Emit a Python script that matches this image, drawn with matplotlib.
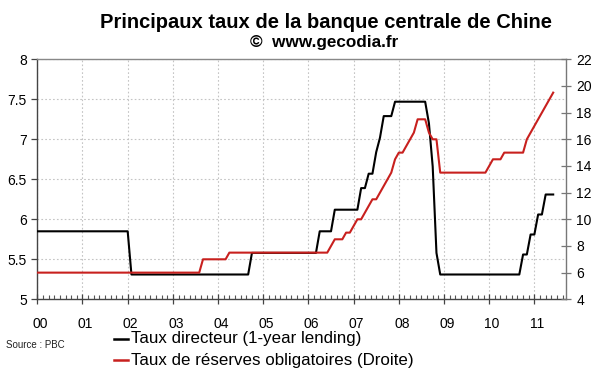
import matplotlib
matplotlib.use("Agg")
import matplotlib.pyplot as plt
import matplotlib.transforms as mtransforms
import numpy as np

plt.rcParams['font.family'] = ['Liberation Sans', 'DejaVu Sans']

# Monthly data, Jan 2000 .. Jun 2011 (end-of-month values)
taux_directeur = (
    [5.85] * 12 +                                   # 2000
    [5.85] * 12 +                                   # 2001
    [5.85] + [5.31] * 11 +                          # 2002
    [5.31] * 12 +                                   # 2003
    [5.31] * 9 + [5.58] * 3 +                       # 2004
    [5.58] * 12 +                                   # 2005
    [5.58] * 3 + [5.85] * 4 + [6.12] * 5 +          # 2006
    [6.12, 6.12, 6.39, 6.39, 6.57, 6.57, 6.84, 7.02, 7.29, 7.29, 7.29, 7.47] +  # 2007
    [7.47] * 8 + [7.20, 6.66, 5.58, 5.31] +         # 2008
    [5.31] * 12 +                                   # 2009
    [5.31] * 9 + [5.56, 5.56, 5.81] +               # 2010
    [5.81, 6.06, 6.06, 6.31, 6.31, 6.31]            # 2011
)
taux_reserves = (
    [6.0] * 12 + [6.0] * 12 + [6.0] * 12 +          # 2000-2002
    [6.0] * 8 + [7.0] * 4 +                         # 2003
    [7.0] * 3 + [7.5] * 9 +                         # 2004
    [7.5] * 12 +                                    # 2005
    [7.5] * 6 + [8.0, 8.5, 8.5, 8.5, 9.0, 9.0] +    # 2006
    [9.5, 10.0, 10.0, 10.5, 11.0, 11.5, 11.5, 12.0, 12.5, 13.0, 13.5, 14.5] +  # 2007
    [15.0, 15.0, 15.5, 16.0, 16.5, 17.5, 17.5, 17.5, 16.5, 16.0, 16.0, 13.5] +  # 2008
    [13.5] * 12 +                                   # 2009
    [14.0, 14.5, 14.5, 14.5, 15.0, 15.0, 15.0, 15.0, 15.0, 15.0, 16.0, 16.5] +  # 2010
    [17.0, 17.5, 18.0, 18.5, 19.0, 19.5]            # 2011
)
year_labels = ['00', '01', '02', '03', '04', '05', '06', '07', '08', '09', '10', '11']
left_ticks = [5, 5.5, 6, 6.5, 7, 7.5, 8]
right_ticks = [4, 6, 8, 10, 12, 14, 16, 18, 20, 22]

months = np.arange(len(taux_directeur)) / 12.0  # years since Jan 2000

fig = plt.figure(figsize=(6.0, 3.72), dpi=100)
ax = fig.add_axes([37.3 / 600, 1 - 299.3 / 372, (566 - 37.3) / 600, (299.3 - 59.3) / 372])
ax2 = ax.twinx()

red = '#C8201E'
ax.plot(months, taux_directeur, color='black', lw=1.5, zorder=5)
ax2.plot(months, taux_reserves, color=red, lw=1.5, zorder=4)

ax.set_xlim(0, 11.70)
ax.set_ylim(5, 8)
ax2.set_ylim(4, 22)
ax.set_yticks(left_ticks)
ax.set_yticklabels(['5', '5.5', '6', '6.5', '7', '7.5', '8'])
ax2.set_yticks(right_ticks)

ax.set_xticks(np.arange(len(year_labels)))
ax.set_xticklabels(year_labels)
ax.set_xticks(np.arange(0, 11.71, 1 / 8), minor=True)

ax.grid(True, which='major', color='#C4C4C4', linestyle=(0, (1.5, 2)), lw=0.8)
ax.set_axisbelow(True)

ax.spines['top'].set_color('#888888')
ax2.spines['top'].set_visible(False)
ax.spines['right'].set_visible(False)
ax2.spines['left'].set_visible(False)
ax2.spines['bottom'].set_visible(False)
ax.spines['left'].set_color('#444444')
ax.spines['bottom'].set_color('#444444')
ax2.spines['right'].set_color('#777777')
for sp in ax.spines.values():
    sp.set_linewidth(1.0)
ax2.spines['right'].set_linewidth(1.0)

ax.tick_params(axis='y', direction='out', length=4.5, width=0.9, color='#444444', labelsize=10, pad=3)
ax2.tick_params(axis='y', direction='inout', length=7, width=0.9, color='#777777', labelsize=10, pad=4)
ax.tick_params(axis='x', which='major', direction='inout', length=7, width=0.9, color='#444444', labelsize=10, pad=9)
ax.tick_params(axis='x', which='minor', direction='in', length=3, width=0.8, color='#555555')

offset = mtransforms.ScaledTranslation(3 / 100, 0, fig.dpi_scale_trans)
for lab in ax.get_xticklabels():
    lab.set_transform(lab.get_transform() + offset)

fig.text(326 / 600, 1 - 22 / 372, 'Principaux taux de la banque centrale de Chine',
         ha='center', va='center', fontsize=14.5, fontweight='bold')
fig.text(324 / 600, 1 - 43 / 372, '©  www.gecodia.fr',
         ha='center', va='center', fontsize=12.3, fontweight='bold')

fig.text(6 / 600, 1 - 345 / 372, 'Source : PBC', ha='left', va='center', fontsize=7, color='#222222')

# Legend
fig.add_artist(plt.Line2D([114 / 600, 128 / 600], [1 - 339 / 372] * 2, color='black', lw=1.8, transform=fig.transFigure))
fig.add_artist(plt.Line2D([114 / 600, 128 / 600], [1 - 360 / 372] * 2, color=red, lw=1.8, transform=fig.transFigure))
fig.text(131 / 600, 1 - 339 / 372, 'Taux directeur (1-year lending)', ha='left', va='center', fontsize=12.2)
fig.text(131 / 600, 1 - 360 / 372, 'Taux de réserves obligatoires (Droite)', ha='left', va='center', fontsize=12.2)

fig.savefig('out.png', dpi=100)
